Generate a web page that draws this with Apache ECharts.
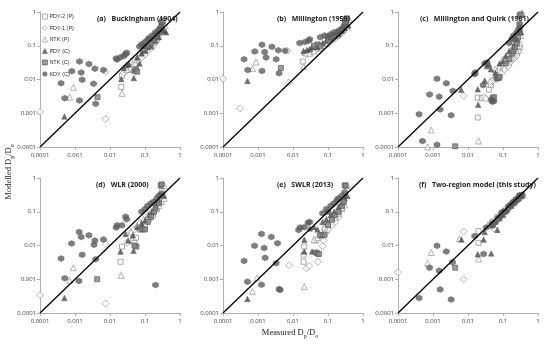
<!DOCTYPE html>
<html><head><meta charset="utf-8">
<script src="https://cdn.jsdelivr.net/npm/echarts@6/dist/echarts.min.js"></script>
<style>html,body{margin:0;padding:0;background:#fff}#c{width:550px;height:345px}</style>
</head><body><div id="c"></div>
<script>
// Panel titles
var panelTitles = ['(a)   Buckingham (1904)', '(b)   Millington (1959)', '(c)   Millington and Quirk (1961)',
  '(d)   WLR (2000)', '(e)   SWLR (2013)', '(f)   Two-region model (this study)'];
var tickValues = [0.0001, 0.001, 0.01, 0.1, 1];
var seriesNames = ['PDY-2 (P)', 'PDY-1 (P)', 'NTK (P)', 'PDY (C)', 'NTK (C)', 'KDY (C)'];

// ---- (a) Buckingham ----
var a_PDY2 = [[0.021,0.006],[0.022,0.013],[0.04,0.019],[0.045,0.021],[0.05,0.022],[0.06,0.035],[0.08,0.05],[0.1,0.06],[0.12,0.08],[0.15,0.09],[0.18,0.12],[0.22,0.16],[0.28,0.25],[0.3,0.5]];
var a_PDY1 = [[0.0001,0.0011],[0.0075,0.00068],[0.0075,0.017],[0.025,0.016],[0.03,0.018],[0.035,0.02],[0.04,0.022],[0.05,0.028],[0.065,0.035],[0.08,0.045],[0.1,0.055],[0.13,0.075],[0.17,0.1],[0.2,0.13]];
var a_NTKP = [[0.0009,0.0059],[0.0007,0.003],[0.022,0.0039],[0.03,0.02],[0.04,0.035],[0.05,0.04],[0.07,0.06],[0.09,0.08],[0.11,0.1],[0.14,0.13],[0.18,0.17],[0.22,0.21],[0.26,0.24],[0.3,0.27],[0.35,0.3],[0.38,0.4]];
var a_PDYC = [[0.0005,0.0008],[0.021,0.0103],[0.048,0.011],[0.025,0.022],[0.03,0.027],[0.035,0.028],[0.06,0.045],[0.07,0.03],[0.08,0.06],[0.1,0.07],[0.12,0.09],[0.15,0.1],[0.2,0.14],[0.25,0.18],[0.3,0.3],[0.35,0.28],[0.4,0.25]];
var a_NTKC = [[0.0044,0.003],[0.05,0.018],[0.055,0.02],[0.06,0.017],[0.1,0.08],[0.12,0.1],[0.15,0.12],[0.18,0.15],[0.2,0.19],[0.22,0.2],[0.25,0.25],[0.27,0.3],[0.3,0.4],[0.3,0.5],[0.32,0.55]];
var a_KDYC = [[0.0004,0.0078],[0.00051,0.0028],[0.00081,0.0177],[0.00134,0.034],[0.00134,0.0024],[0.0015,0.016],[0.0016,0.0098],[0.0025,0.029],[0.0037,0.021],[0.0034,0.0075],[0.0039,0.0019],[0.0065,0.019],[0.015,0.042],[0.016,0.039],[0.02,0.046],[0.025,0.05],[0.028,0.057],[0.03,0.062],[0.07,0.095],[0.08,0.11],[0.09,0.1],[0.1,0.13],[0.12,0.15],[0.13,0.17],[0.15,0.16],[0.16,0.2],[0.2,0.25],[0.22,0.22],[0.25,0.3],[0.28,0.35]];

// ---- (b) Millington 1959 ----
var b_PDY2 = [[0.019,0.034],[0.022,0.06],[0.03,0.065],[0.045,0.08],[0.055,0.085],[0.07,0.1],[0.09,0.11],[0.12,0.15],[0.15,0.18],[0.2,0.22],[0.3,0.4],[0.33,0.55]];
var b_PDY1 = [[0.0001,0.0105],[0.00031,0.0014],[0.0075,0.0081],[0.007,0.07],[0.025,0.055],[0.035,0.065],[0.045,0.075],[0.06,0.085],[0.08,0.1],[0.11,0.13],[0.15,0.16],[0.2,0.2]];
var b_NTKP = [[0.00088,0.033],[0.0007,0.021],[0.02,0.024],[0.03,0.06],[0.04,0.07],[0.06,0.1],[0.08,0.12],[0.1,0.13],[0.14,0.17],[0.18,0.2],[0.22,0.24],[0.28,0.3],[0.35,0.36],[0.4,0.6]];
var b_PDYC = [[0.0005,0.0091],[0.02,0.07],[0.025,0.075],[0.03,0.08],[0.035,0.09],[0.05,0.09],[0.07,0.12],[0.09,0.14],[0.12,0.17],[0.16,0.2],[0.2,0.22],[0.25,0.27],[0.3,0.33],[0.38,0.4]];
var b_NTKC = [[0.0045,0.022],[0.04,0.1],[0.05,0.11],[0.06,0.1],[0.1,0.15],[0.12,0.18],[0.15,0.2],[0.2,0.25],[0.25,0.3],[0.28,0.35],[0.3,0.5],[0.32,0.6],[0.35,0.65]];
var b_KDYC = [[0.0004,0.04],[0.00051,0.019],[0.00081,0.068],[0.0013,0.107],[0.0013,0.018],[0.00155,0.065],[0.0017,0.045],[0.0025,0.093],[0.0033,0.04],[0.0038,0.074],[0.004,0.0154],[0.006,0.071],[0.0155,0.12],[0.022,0.13],[0.028,0.14],[0.03,0.155],[0.06,0.18],[0.08,0.2],[0.1,0.19],[0.12,0.22],[0.15,0.25],[0.18,0.23],[0.2,0.28],[0.25,0.32],[0.3,0.38]];

// ---- (c) Millington and Quirk 1961 ----
var c_PDY2 = [[0.019,0.0029],[0.025,0.0028],[0.04,0.005],[0.045,0.007],[0.019,0.00075],[0.06,0.01],[0.08,0.018],[0.1,0.022],[0.12,0.025],[0.15,0.03],[0.18,0.04],[0.22,0.05],[0.25,0.06],[0.28,0.07],[0.3,0.09],[0.32,0.8]];
var c_PDY1 = [[0.0075,0.0033],[0.029,0.003],[0.032,0.0027],[0.05,0.009],[0.07,0.013],[0.09,0.015],[0.11,0.02],[0.14,0.025],[0.17,0.035],[0.2,0.04],[0.24,0.05]];
var c_NTKP = [[0.00088,0.00032],[0.0007,0.0001],[0.02,0.00015],[0.043,0.009],[0.06,0.02],[0.08,0.025],[0.1,0.04],[0.13,0.05],[0.17,0.045],[0.2,0.06],[0.23,0.08],[0.26,0.1],[0.3,0.12],[0.32,0.2],[0.35,0.95]];
var c_PDYC = [[0.0064,0.005],[0.019,0.0051],[0.0195,0.0018],[0.03,0.0093],[0.035,0.025],[0.04,0.028],[0.045,0.02],[0.06,0.016],[0.08,0.03],[0.1,0.035],[0.12,0.05],[0.15,0.07],[0.2,0.1],[0.25,0.15],[0.3,0.3],[0.33,0.25]];
var c_NTKC = [[0.0043,0.000105],[0.05,0.0028],[0.055,0.003],[0.065,0.011],[0.07,0.011],[0.075,0.011],[0.08,0.012],[0.12,0.03],[0.15,0.04],[0.18,0.06],[0.2,0.07],[0.22,0.09],[0.25,0.12],[0.27,0.18],[0.3,0.25],[0.3,0.8],[0.32,0.85]];
var c_KDYC = [[0.0004,0.00093],[0.0005,0.00015],[0.0008,0.0036],[0.0013,0.0105],[0.0013,0.000117],[0.0015,0.0031],[0.0016,0.0013],[0.0024,0.0078],[0.0033,0.00087],[0.0037,0.0046],[0.0155,0.0144],[0.016,0.016],[0.027,0.0068],[0.046,0.0025],[0.05,0.0022],[0.055,0.0023],[0.03,0.03],[0.035,0.032],[0.2,0.2],[0.22,0.15],[0.25,0.25],[0.28,0.3],[0.3,0.35],[0.15,0.12],[0.18,0.16],[0.3,0.45]];

// ---- (d) WLR 2000 ----
var d_PDY2 = [[0.02,0.0033],[0.022,0.0093],[0.045,0.014],[0.055,0.017],[0.05,0.012],[0.07,0.03],[0.1,0.04],[0.13,0.06],[0.17,0.08],[0.22,0.12],[0.28,0.2],[0.3,0.4]];
var d_PDY1 = [[0.0001,0.00034],[0.0075,0.00019],[0.0075,0.011],[0.03,0.012],[0.04,0.025],[0.05,0.03],[0.06,0.035],[0.08,0.045],[0.11,0.06],[0.14,0.08],[0.18,0.1]];
var d_NTKP = [[0.0009,0.0022],[0.0007,0.00093],[0.021,0.0013],[0.04,0.025],[0.06,0.04],[0.07,0.05],[0.09,0.06],[0.12,0.08],[0.15,0.1],[0.2,0.12],[0.25,0.15],[0.3,0.2],[0.35,0.25],[0.35,0.6]];
var d_PDYC = [[0.0005,0.00028],[0.02,0.0066],[0.047,0.007],[0.028,0.022],[0.033,0.014],[0.045,0.02],[0.06,0.035],[0.08,0.045],[0.1,0.055],[0.13,0.08],[0.16,0.1],[0.2,0.15],[0.25,0.2],[0.35,0.3]];
var d_NTKC = [[0.0043,0.001],[0.057,0.0093],[0.05,0.01],[0.08,0.03],[0.09,0.03],[0.1,0.03],[0.12,0.05],[0.15,0.07],[0.18,0.1],[0.2,0.13],[0.25,0.18],[0.3,0.3],[0.28,0.6],[0.3,0.65]];
var d_KDYC = [[0.0004,0.0041],[0.00051,0.00107],[0.0008,0.0114],[0.00131,0.025],[0.0013,0.00089],[0.0015,0.018],[0.0016,0.0053],[0.0025,0.02],[0.0035,0.0105],[0.0037,0.014],[0.0039,0.0039],[0.0065,0.015],[0.015,0.034],[0.016,0.04],[0.022,0.04],[0.028,0.071],[0.03,0.06],[0.2,0.00068],[0.08,0.1],[0.1,0.12],[0.12,0.15],[0.15,0.18],[0.18,0.2],[0.22,0.25],[0.25,0.3],[0.3,0.35]];

// ---- (e) SWLR 2013 ----
var e_PDY2 = [[0.021,0.0093],[0.02,0.0053],[0.02,0.0033],[0.045,0.014],[0.06,0.02],[0.08,0.03],[0.1,0.04],[0.13,0.05],[0.17,0.07],[0.2,0.09],[0.25,0.12],[0.28,0.18]];
var e_PDY1 = [[0.0077,0.0026],[0.024,0.0021],[0.029,0.0025],[0.052,0.0033],[0.07,0.0095],[0.075,0.014],[0.09,0.025],[0.1,0.03],[0.13,0.04],[0.16,0.05],[0.2,0.07]];
var e_NTKP = [[0.00069,0.00044],[0.00094,0.0011],[0.021,0.0006],[0.04,0.015],[0.05,0.017],[0.08,0.035],[0.1,0.045],[0.13,0.06],[0.16,0.07],[0.2,0.09],[0.25,0.13],[0.3,0.16],[0.35,0.3],[0.35,0.6]];
var e_PDYC = [[0.0005,0.00026],[0.021,0.0148],[0.021,0.0066],[0.035,0.0066],[0.03,0.032],[0.04,0.035],[0.05,0.03],[0.07,0.05],[0.09,0.06],[0.12,0.08],[0.15,0.1],[0.2,0.14],[0.25,0.18],[0.3,0.25],[0.35,0.3]];
var e_NTKC = [[0.045,0.0062],[0.05,0.0058],[0.055,0.0056],[0.06,0.02],[0.07,0.02],[0.08,0.021],[0.1,0.04],[0.13,0.06],[0.16,0.08],[0.2,0.1],[0.25,0.15],[0.28,0.2],[0.3,0.6],[0.32,0.6]];
var e_KDYC = [[0.0004,0.0035],[0.0005,0.00085],[0.0008,0.0098],[0.00126,0.022],[0.00126,0.00069],[0.0015,0.0085],[0.0016,0.0043],[0.0024,0.018],[0.0036,0.0117],[0.0033,0.003],[0.004,0.00051],[0.0043,0.00048],[0.0145,0.029],[0.016,0.034],[0.021,0.035],[0.027,0.047],[0.03,0.05],[0.07,0.09],[0.09,0.12],[0.1,0.1],[0.12,0.15],[0.15,0.18],[0.18,0.22],[0.2,0.25],[0.25,0.3],[0.3,0.38]];

// ---- (f) Two-region model ----
var f_PDY2 = [[0.02,0.027],[0.02,0.012],[0.042,0.041],[0.05,0.05],[0.07,0.07],[0.09,0.085],[0.12,0.11],[0.15,0.14],[0.19,0.18],[0.24,0.23],[0.3,0.27]];
var f_PDY1 = [[0.0001,0.0016],[0.0075,0.026],[0.0075,0.001],[0.055,0.032],[0.06,0.06],[0.08,0.08],[0.1,0.1],[0.13,0.13],[0.17,0.16],[0.22,0.21]];
var f_NTKP = [[0.00089,0.0062],[0.0007,0.003],[0.02,0.004],[0.0057,0.016],[0.04,0.04],[0.06,0.055],[0.08,0.075],[0.1,0.09],[0.13,0.12],[0.16,0.16],[0.2,0.19],[0.25,0.24],[0.3,0.28],[0.38,0.33]];
var f_PDYC = [[0.0065,0.015],[0.019,0.0055],[0.046,0.0058],[0.028,0.015],[0.069,0.029],[0.03,0.025],[0.05,0.04],[0.06,0.05],[0.08,0.065],[0.1,0.08],[0.13,0.12],[0.17,0.15],[0.22,0.2],[0.28,0.25],[0.35,0.3]];
var f_NTKC = [[0.0043,0.0022],[0.05,0.045],[0.07,0.06],[0.09,0.09],[0.11,0.1],[0.14,0.13],[0.17,0.16],[0.2,0.18],[0.23,0.22],[0.27,0.25],[0.3,0.3],[0.33,0.3]];
var f_KDYC = [[0.0004,0.00028],[0.0008,0.0022],[0.0013,0.0098],[0.0015,0.0018],[0.0016,0.0005],[0.0024,0.0066],[0.0036,0.0032],[0.0033,0.00025],[0.0155,0.019],[0.028,0.0056],[0.033,0.034],[0.05,0.04],[0.06,0.05],[0.08,0.07],[0.1,0.1],[0.12,0.1],[0.15,0.15],[0.18,0.17],[0.2,0.2],[0.25,0.22],[0.3,0.3],[0.35,0.32]];

var oneToOne = [[0.0001,0.0001],[1,1]];

var panelData = [
  [a_PDY2,a_PDY1,a_NTKP,a_PDYC,a_NTKC,a_KDYC],
  [b_PDY2,b_PDY1,b_NTKP,b_PDYC,b_NTKC,b_KDYC],
  [c_PDY2,c_PDY1,c_NTKP,c_PDYC,c_NTKC,c_KDYC],
  [d_PDY2,d_PDY1,d_NTKP,d_PDYC,d_NTKC,d_KDYC],
  [e_PDY2,e_PDY1,e_NTKP,e_PDYC,e_NTKC,e_KDYC],
  [f_PDY2,f_PDY1,f_NTKP,f_PDYC,f_NTKC,f_KDYC]
];

var hex = 'path://M0,-1L0.866,-0.5L0.866,0.5L0,1L-0.866,0.5L-0.866,-0.5Z';
var styles = [
  {symbol:'rect', size:5, item:{color:'#fff', borderColor:'#7a7a7a', borderWidth:0.8}},
  {symbol:'diamond', size:7, item:{color:'#fff', borderColor:'#8a8a8a', borderWidth:0.8}},
  {symbol:'triangle', size:6, item:{color:'#fff', borderColor:'#8a8a8a', borderWidth:0.8}},
  {symbol:'triangle', size:5.5, item:{color:'#4a4a4a', borderColor:'#4a4a4a', borderWidth:0.5}},
  {symbol:'rect', size:5, item:{color:'#858585', borderColor:'#505050', borderWidth:0.8}},
  {symbol:hex, size:6, item:{color:'#5f5f5f', borderColor:'#555', borderWidth:0.5}}
];

var lefts = [40, 223, 398, 40, 223, 398];
var tops = [12, 12, 12, 178, 178, 178];
var titleLefts = [92, 272, 415, 91, 272, 414];
var titleTops = [10, 10, 10, 176, 176, 176];

function fmt(v){ var e = Math.round(Math.log10(v)); return e >= 0 ? String(Math.pow(10,e)) : Math.pow(10,e).toFixed(-e); }

var grids=[], xAxes=[], yAxes=[], series=[], titles=[];
for (var i=0;i<6;i++){
  grids.push({left:lefts[i], top:tops[i], width:140, height:135});
  var axCommon = {type:'log', logBase:10, min:0.0001, max:1, gridIndex:i,
    axisLine:{lineStyle:{color:'#b0b0b0', width:1}},
    axisTick:{show:true, length:3, lineStyle:{color:'#b0b0b0'}},
    minorTick:{show:false}, splitLine:{show:false},
    axisLabel:{fontSize:6, color:'#404040', fontFamily:'Open Sans', margin:5}};
  xAxes.push(JSON.parse(JSON.stringify(axCommon)));
  yAxes.push(JSON.parse(JSON.stringify(axCommon)));
  xAxes[i].axisLabel.formatter = fmt; yAxes[i].axisLabel.formatter = fmt;
  yAxes[i].axisLabel.margin = 4;
  titles.push({text:panelTitles[i], left:titleLefts[i], top:titleTops[i],
    textStyle:{fontSize:7, fontWeight:'bold', color:'#222', fontFamily:'Open Sans'}});
  series.push({type:'line', xAxisIndex:i, yAxisIndex:i, data:oneToOne, symbol:'none',
    lineStyle:{color:'#000', width:1.3}, z:3, silent:true});
  for (var s=0;s<6;s++){
    series.push({type:'scatter', name:seriesNames[s], xAxisIndex:i, yAxisIndex:i,
      data:panelData[i][s], symbol:styles[s].symbol, symbolSize:styles[s].size,
      itemStyle:styles[s].item, z:2});
  }
}

var legendData = seriesNames.map(function(n, k){ return {name:n, icon:styles[k].symbol, itemStyle:styles[k].item}; });

var chart = echarts.init(document.getElementById('c'), null, {renderer:'canvas'});
chart.setOption({
  animation:false,
  title:titles,
  grid:grids, xAxis:xAxes, yAxis:yAxes, series:series,
  legend:{data:legendData, orient:'vertical', left:42, top:13, itemGap:4.5, itemWidth:5, itemHeight:5,
    padding:0, textStyle:{fontSize:5.5, lineHeight:7, color:'#333', fontFamily:'Liberation Sans', padding:[0,0,0,-3]}, selectedMode:false},
  graphic:[
    {type:'text', x:9, y:172, rotation:Math.PI/2,
      style:{text:'{a|Modelled D}{s|p}{a|/D}{s|o}', align:'center', verticalAlign:'middle',
        rich:{a:{fontSize:8.5, fontFamily:'Liberation Serif', fill:'#222', lineHeight:12},
              s:{fontSize:6, fontFamily:'Liberation Serif', fill:'#222', verticalAlign:'bottom', lineHeight:12, padding:[4,0,0,0]}}}},
    {type:'text', x:290, y:333,
      style:{text:'{a|Measured D}{s|p}{a|/D}{s|o}', align:'center', verticalAlign:'middle',
        rich:{a:{fontSize:8.5, fontFamily:'Liberation Serif', fill:'#222', lineHeight:12},
              s:{fontSize:6, fontFamily:'Liberation Serif', fill:'#222', verticalAlign:'bottom', lineHeight:12, padding:[4,0,0,0]}}}}
  ]
});
</script></body></html>
